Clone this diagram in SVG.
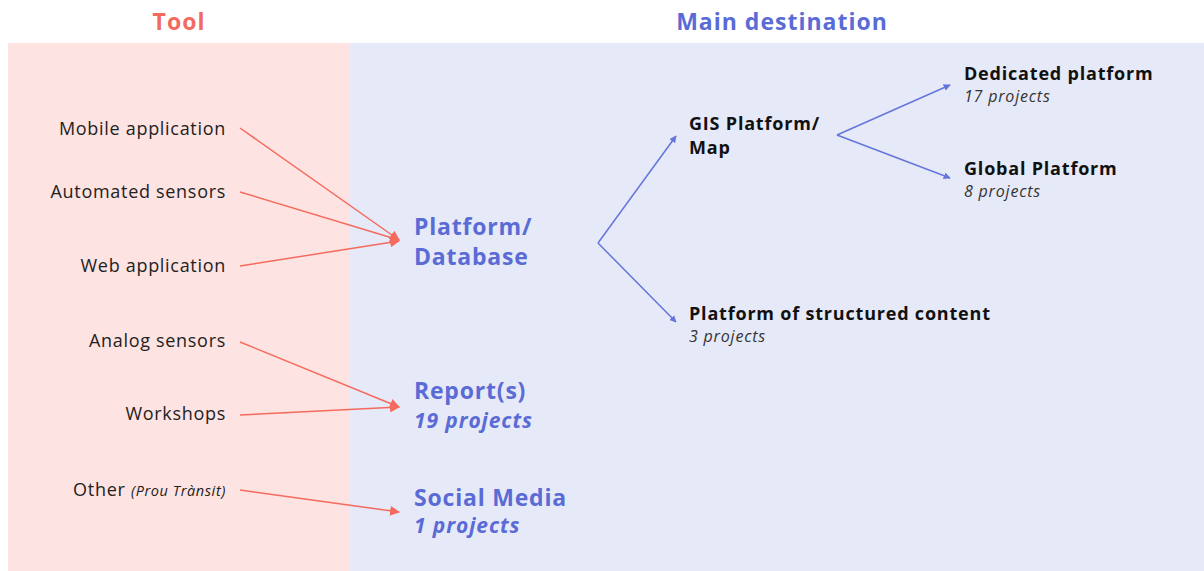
<svg xmlns="http://www.w3.org/2000/svg" width="1204" height="571" viewBox="0 0 1204 571">
<style>
.hdr{font-family:"Open Sans","Liberation Sans",sans-serif;font-weight:bold;font-size:23px;letter-spacing:1px}
.tool{font-family:"Open Sans","Liberation Sans",sans-serif;font-size:18px;letter-spacing:0.7px;fill:#222;text-anchor:end}
.tooli{font-style:italic;font-size:14.5px;letter-spacing:0.6px}
.dest{font-family:"Open Sans","Liberation Sans",sans-serif;font-weight:bold;font-size:23px;letter-spacing:0.8px;fill:#5a6bd6}
.desti{font-family:"Open Sans","Liberation Sans",sans-serif;font-weight:bold;font-style:italic;font-size:21px;letter-spacing:0.9px;fill:#5a6bd6}
.sub{font-family:"Open Sans","Liberation Sans",sans-serif;font-weight:bold;font-size:18px;letter-spacing:0.8px;fill:#111}
.subi{font-family:"Open Sans","Liberation Sans",sans-serif;font-style:italic;font-size:16px;letter-spacing:0.8px;fill:#333}
.red{stroke:#f56a5e;stroke-width:1.5;fill:none;marker-end:url(#ar)}
.blue{stroke:#6575dc;stroke-width:1.5;fill:none;marker-end:url(#ab)}
</style>
<defs>
<marker id="ar" viewBox="0 0 10 10" refX="9" refY="5" markerWidth="10" markerHeight="10" markerUnits="userSpaceOnUse" orient="auto"><path d="M0,0 L10,5 L0,10 z" fill="#f56a5e"/></marker>
<marker id="ab" viewBox="0 0 10 10" refX="9" refY="5" markerWidth="7" markerHeight="7" markerUnits="userSpaceOnUse" orient="auto"><path d="M0,0 L10,5 L0,10 z" fill="#6575dc"/></marker>
</defs>
<rect width="1204" height="571" fill="#ffffff"/>
<rect x="8" y="43" width="342" height="528" fill="#fde3e1"/>
<rect x="350" y="43" width="854" height="528" fill="#e6e9f7"/>
<text class="hdr" x="179" y="30" text-anchor="middle" fill="#f26b5e">Tool</text>
<text class="hdr" x="782" y="30" text-anchor="middle" fill="#5a6bd6">Main destination</text>
<g id="connectors">
<line class="red" x1="240" y1="128" x2="399" y2="240"/>
<line class="red" x1="240" y1="192" x2="399" y2="240"/>
<line class="red" x1="240" y1="266" x2="399" y2="241"/>
<line class="red" x1="240" y1="342" x2="399" y2="407"/>
<line class="red" x1="240" y1="415" x2="399" y2="407"/>
<line class="red" x1="240" y1="490" x2="399" y2="512"/>
<line class="blue" x1="598" y1="243" x2="676" y2="136"/>
<line class="blue" x1="598" y1="243" x2="676" y2="322"/>
<line class="blue" x1="837" y1="135" x2="950" y2="85"/>
<line class="blue" x1="837" y1="135" x2="950" y2="178"/>
</g>
<g id="mobile"><text class="tool" x="226" y="135">Mobile application</text></g>
<g id="automated"><text class="tool" x="226" y="198">Automated sensors</text></g>
<g id="web"><text class="tool" x="226" y="272">Web application</text></g>
<g id="analog"><text class="tool" x="226" y="347">Analog sensors</text></g>
<g id="workshops"><text class="tool" x="226" y="420">Workshops</text></g>
<g id="other"><text class="tool" x="226" y="496">Other <tspan class="tooli">(Prou Trànsit)</tspan></text></g>
<g id="platform"><text class="dest" x="414" y="235">Platform/</text><text class="dest" x="414" y="265">Database</text></g>
<g id="report"><text class="dest" x="414" y="399">Report(s)</text><text class="desti" x="414" y="428">19 projects</text></g>
<g id="social"><text class="dest" x="414" y="506">Social Media</text><text class="desti" x="414" y="533">1 projects</text></g>
<g id="gis"><text class="sub" x="689" y="130">GIS Platform/</text><text class="sub" x="689" y="154">Map</text></g>
<g id="dedicated"><text class="sub" x="964" y="80">Dedicated platform</text><text class="subi" x="964" y="102">17 projects</text></g>
<g id="global"><text class="sub" x="964" y="175">Global Platform</text><text class="subi" x="964" y="197">8 projects</text></g>
<g id="structured"><text class="sub" x="689" y="320">Platform of structured content</text><text class="subi" x="689" y="342">3 projects</text></g>
</svg>
